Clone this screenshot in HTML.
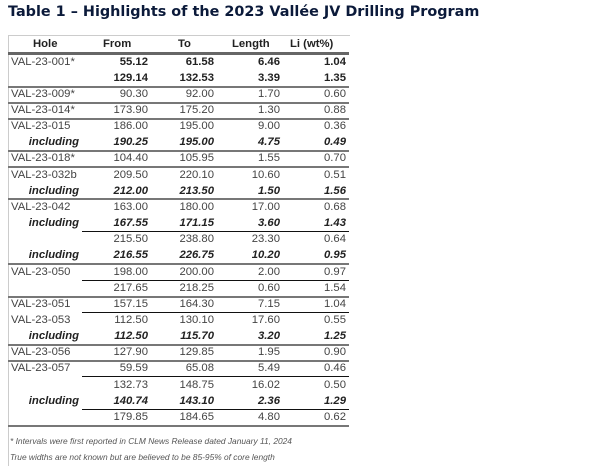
<!DOCTYPE html>
<html><head><meta charset="utf-8"><style>
body{margin:0;width:606px;height:463px;background:#fff;overflow:hidden;position:relative;font-family:"Liberation Sans",sans-serif}
.title{position:absolute;left:8px;top:4px;font-family:"DejaVu Sans",sans-serif;font-weight:bold;font-size:14.4px;color:#0b1a3a;white-space:nowrap}
.frame{position:absolute;left:8px;top:35px;width:341px;height:430px;border-top:1px solid #ccc;border-left:1px solid #ccc}
.r{position:absolute;left:8px;width:341px;height:16px;font-size:11.3px;color:#444;line-height:16px}
.r span{position:absolute;top:0}
.h{left:3px}
.c1{right:201px}.c2{right:135px}.c3{right:69px}.c4{right:3px}
.b{font-weight:bold;color:#222}
.i{font-weight:bold;font-style:italic;color:#222}
.inc{right:270px}
.hd{font-weight:bold;color:#222}
.full{position:absolute;left:8px;width:341px;height:2px;background:#777}
.part{position:absolute;left:82px;width:267px;height:1px;background:#111}
.fn{position:absolute;left:10px;font-size:8.4px;font-style:italic;color:#555;white-space:nowrap}
</style></head><body>
<div class="title">Table 1 – Highlights of the 2023 Vallée JV Drilling Program</div>
<div class="frame"></div>
<div class="r hd" style="top:36px"><span style="left:25px">Hole</span><span style="left:95px">From</span><span style="left:170px">To</span><span style="left:224px">Length</span><span style="left:282px">Li (wt%)</span></div>
<div class="full" style="top:52px;height:3px;background:#666"></div>

<div class="r" style="top:54px"><span class="h">VAL-23-001*</span><span class="c1 b">55.12</span><span class="c2 b">61.58</span><span class="c3 b">6.46</span><span class="c4 b">1.04</span></div>
<div class="r" style="top:70px"><span class="c1 b">129.14</span><span class="c2 b">132.53</span><span class="c3 b">3.39</span><span class="c4 b">1.35</span></div>
<div class="full" style="top:86px"></div>
<div class="r" style="top:86px"><span class="h">VAL-23-009*</span><span class="c1">90.30</span><span class="c2">92.00</span><span class="c3">1.70</span><span class="c4">0.60</span></div>
<div class="full" style="top:102px"></div>
<div class="r" style="top:102px"><span class="h">VAL-23-014*</span><span class="c1">173.90</span><span class="c2">175.20</span><span class="c3">1.30</span><span class="c4">0.88</span></div>
<div class="full" style="top:118px"></div>
<div class="r" style="top:118px"><span class="h">VAL-23-015</span><span class="c1">186.00</span><span class="c2">195.00</span><span class="c3">9.00</span><span class="c4">0.36</span></div>
<div class="r" style="top:134px"><span class="i inc">including</span><span class="c1 i">190.25</span><span class="c2 i">195.00</span><span class="c3 i">4.75</span><span class="c4 i">0.49</span></div>
<div class="full" style="top:150px"></div>
<div class="r" style="top:150px"><span class="h">VAL-23-018*</span><span class="c1">104.40</span><span class="c2">105.95</span><span class="c3">1.55</span><span class="c4">0.70</span></div>
<div class="full" style="top:166px"></div>
<div class="r" style="top:167px"><span class="h">VAL-23-032b</span><span class="c1">209.50</span><span class="c2">220.10</span><span class="c3">10.60</span><span class="c4">0.51</span></div>
<div class="r" style="top:183px"><span class="i inc">including</span><span class="c1 i">212.00</span><span class="c2 i">213.50</span><span class="c3 i">1.50</span><span class="c4 i">1.56</span></div>
<div class="full" style="top:198px"></div>
<div class="r" style="top:199px"><span class="h">VAL-23-042</span><span class="c1">163.00</span><span class="c2">180.00</span><span class="c3">17.00</span><span class="c4">0.68</span></div>
<div class="r" style="top:215px"><span class="i inc">including</span><span class="c1 i">167.55</span><span class="c2 i">171.15</span><span class="c3 i">3.60</span><span class="c4 i">1.43</span></div>
<div class="part" style="top:231px"></div>
<div class="r" style="top:231px"><span class="c1">215.50</span><span class="c2">238.80</span><span class="c3">23.30</span><span class="c4">0.64</span></div>
<div class="r" style="top:247px"><span class="i inc">including</span><span class="c1 i">216.55</span><span class="c2 i">226.75</span><span class="c3 i">10.20</span><span class="c4 i">0.95</span></div>
<div class="full" style="top:263px"></div>
<div class="r" style="top:264px"><span class="h">VAL-23-050</span><span class="c1">198.00</span><span class="c2">200.00</span><span class="c3">2.00</span><span class="c4">0.97</span></div>
<div class="part" style="top:280px"></div>
<div class="r" style="top:280px"><span class="c1">217.65</span><span class="c2">218.25</span><span class="c3">0.60</span><span class="c4">1.54</span></div>
<div class="full" style="top:296px"></div>
<div class="r" style="top:296px"><span class="h">VAL-23-051</span><span class="c1">157.15</span><span class="c2">164.30</span><span class="c3">7.15</span><span class="c4">1.04</span></div>
<div class="part" style="top:312px"></div>
<div class="r" style="top:312px"><span class="h">VAL-23-053</span><span class="c1">112.50</span><span class="c2">130.10</span><span class="c3">17.60</span><span class="c4">0.55</span></div>
<div class="r" style="top:328px"><span class="i inc">including</span><span class="c1 i">112.50</span><span class="c2 i">115.70</span><span class="c3 i">3.20</span><span class="c4 i">1.25</span></div>
<div class="full" style="top:344px"></div>
<div class="r" style="top:344px"><span class="h">VAL-23-056</span><span class="c1">127.90</span><span class="c2">129.85</span><span class="c3">1.95</span><span class="c4">0.90</span></div>
<div class="full" style="top:360px"></div>
<div class="r" style="top:360px"><span class="h">VAL-23-057</span><span class="c1">59.59</span><span class="c2">65.08</span><span class="c3">5.49</span><span class="c4">0.46</span></div>
<div class="part" style="top:376px"></div>
<div class="r" style="top:377px"><span class="c1">132.73</span><span class="c2">148.75</span><span class="c3">16.02</span><span class="c4">0.50</span></div>
<div class="r" style="top:393px"><span class="i inc">including</span><span class="c1 i">140.74</span><span class="c2 i">143.10</span><span class="c3 i">2.36</span><span class="c4 i">1.29</span></div>
<div class="part" style="top:409px"></div>
<div class="r" style="top:409px"><span class="c1">179.85</span><span class="c2">184.65</span><span class="c3">4.80</span><span class="c4">0.62</span></div>
<div class="full" style="top:425px"></div>
<div class="fn" style="top:436px">* Intervals were first reported in CLM News Release dated January 11, 2024</div>
<div class="fn" style="top:452px">True widths are not known but are believed to be 85-95% of core length</div>
</body></html>
